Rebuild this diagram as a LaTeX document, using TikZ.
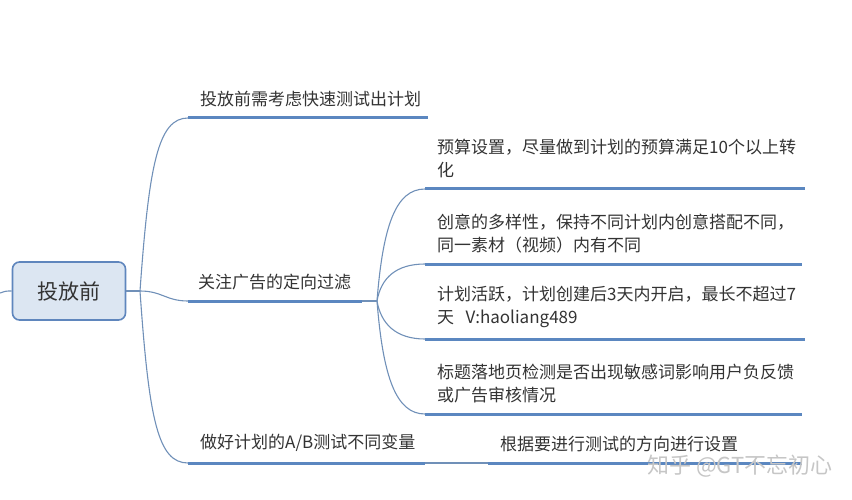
\documentclass[tikz,border=0pt]{standalone}
\usepackage{fontspec}
\setmainfont{Noto Sans CJK SC}
\definecolor{linkblue}{HTML}{7090B8}
\definecolor{barblue}{HTML}{5B87C0}
\definecolor{rootfill}{HTML}{DCE6F2}
\definecolor{rootline}{HTML}{5F86BD}
\definecolor{txtgray}{HTML}{333333}

\begin{document}
\begin{tikzpicture}[x=1pt,y=-1pt,
  topic/.style={anchor=south west, inner xsep=12pt, inner ysep=11pt, align=left,
    text=txtgray, font=\fontsize{17}{23}\selectfont},
  bar/.style={draw=barblue, line width=3pt},
  link/.style={draw=linkblue, line width=1.1pt}]
\useasboundingbox (0,0) rectangle (852,500);

% root
\node[draw=rootline, line width=1.6pt, fill=rootfill, rounded corners=7pt,
  minimum width=113pt, minimum height=58pt, text=txtgray,
  font=\fontsize{21}{25}\selectfont] (root) at (69,291) {投放前};
\coordinate (inlet) at (0,293);
\coordinate (hub) at (140,291);

% first level
\node[topic, text width=216pt] (plan) at (188,118) {投放前需考虑快速测试出计划};
\node[topic, inner xsep=10pt, text width=154pt] (target) at (188,301) {关注广告的定向过滤};
\node[topic, inner xsep=12pt, text width=213pt] (abtest) at (188,463) {做好计划的A/B测试不同变量};

% second level
\coordinate (hubb) at (377,301);
\node[topic, text width=356pt] (budget) at (425,189) {预算设置，尽量做到计划的预算满足10个以上转\\化};
\node[topic, text width=353pt] (creative) at (425,264) {创意的多样性，保持不同计划内创意搭配不同，\\同一素材（视频）内有不同};
\node[topic, text width=356pt] (active) at (425,339) {计划活跃，计划创建后3天内开启，最长不超过7\\天\ \ V:haoliang489};
\node[topic, text width=353pt] (title) at (425,414) {标题落地页检测是否出现敏感词影响用户负反馈\\或广告审核情况};
\node[topic, text width=290pt] (direction) at (488,463) {根据要进行测试的方向进行设置};

% underlines
\foreach \n in {plan,target,abtest,budget,creative,active,title,direction}
  \draw[bar] (\n.south west) -- (\n.south east);

% connectors
\draw[link] (inlet) .. controls (6,291) .. (root.west);
\draw[link] (root.east) -- (hub);
\draw[link] (hub) .. controls (149,165) and (158,118) .. (plan.south west);
\draw[link] (hub) .. controls (162,291) and (166,301) .. (target.south west);
\draw[link] (hub) .. controls (149,420) and (158,463) .. (abtest.south west);
\draw[link] (target.south east) -- (hubb);
\draw[link] (hubb) .. controls (383,225) and (396,189) .. (budget.south west);
\draw[link] (hubb) .. controls (381,278) and (396,264) .. (creative.south west);
\draw[link] (hubb) .. controls (381,324) and (396,339) .. (active.south west);
\draw[link] (hubb) .. controls (383,377) and (396,414) .. (title.south west);
\draw[link] (abtest.south east) -- (direction.south west);

% watermark
\node[text=gray!45, font=\fontsize{22}{26}\selectfont] (mark) at (740,466) {知乎 @GT不忘初心};
\end{tikzpicture}
\end{document}
